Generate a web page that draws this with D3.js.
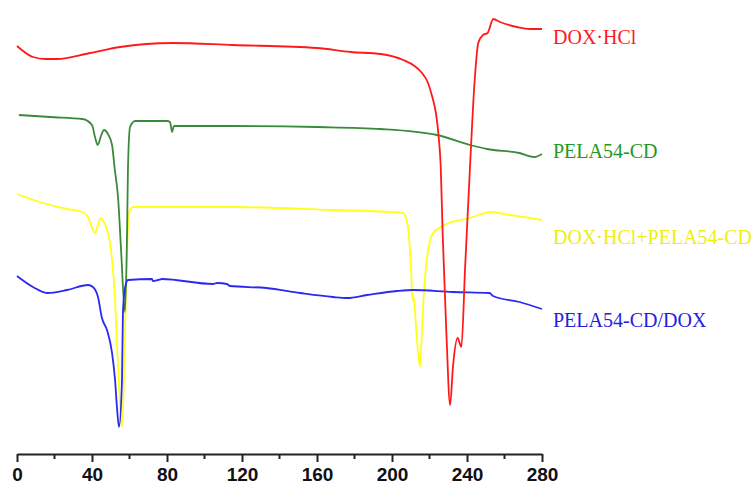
<!DOCTYPE html>
<html><head><meta charset="utf-8">
<script src="https://cdn.jsdelivr.net/npm/d3@7"></script>
<style>body{margin:0;background:#fff}svg{display:block}</style>
</head><body>
<script>
// Temperature ticks (°C)
const tickValues = [0, 40, 80, 120, 160, 200, 240, 280];
const minorTicks = [20, 60, 100, 140, 180, 220, 260];
const seriesNames = ["DOX·HCl", "PELA54-CD", "DOX·HCl+PELA54-CD", "PELA54-CD/DOX"];
const seriesColors = ["#ff1a1a", "#3a8a3a", "#ffff1a", "#2a2af0"];
const labelColors = ["#ff1a1a", "#229922", "#eeee10", "#2222dd"];
// heat flow (arbitrary units, stacked offsets) vs temperature
const doxHCl = [[0,408],[8.5,397],[15,395],[21.3,395],[39,401],[55,407],[83,411],[115,409],[160,406],[178,402],[194,400],[206,394],[212,388],[216,381],[219,372],[221.5,357],[223.5,340],[225,315],[226,287],[227,221],[229,121],[231,49],[232.5,87],[235,116],[237,107],[239,187],[241.6,287],[244,371],[246,411],[248.5,419],[251,421],[254,435],[257.6,432],[266.7,427],[273.6,425],[280,425]];
const pela = [[1,339],[17.6,337],[35,335],[40,329],[41.6,317],[43,309],[44.8,318],[46.4,324],[48.5,320],[50.7,309],[52,287],[54,254],[55.5,204],[57.6,142],[58.7,221],[59.2,287],[60.3,327],[63,333],[80,333],[81.6,332],[82.7,322],[83.5,327],[84,328],[115,328],[160,327],[194,325],[224,319],[241.6,309],[250.7,305],[268,301],[276,297],[280,300]];
const mixture = [[0,260],[13.9,251],[26.7,245],[35,242],[37.9,237],[39.5,229],[41.6,221],[43.2,229],[44.8,236],[46.4,232],[48,224],[50,206],[52.3,154],[53.9,87],[56,27],[57,74],[57.6,121],[58.7,204],[59.7,241],[61.9,247],[97.6,247],[115,247],[168.5,244],[199,242],[205.9,241],[208.5,227],[210.1,187],[211,154],[211.5,157],[212,149],[213.3,114],[214.9,87],[216,124],[216.8,154],[219,201],[222,221],[228,229],[241.6,236],[252.8,242],[263,239],[273.6,236],[280,234]];
const complex = [[0,178],[8.5,167],[16,161],[26.7,164],[37.9,169],[40.5,167],[43.2,157],[45.3,136],[48,124],[50.7,101],[52.3,74],[53.3,47],[54.4,27],[56,74],[56.5,141],[57.6,166],[59.2,174],[72,175],[72.5,173],[75.2,174],[77.3,175],[104.5,170],[106.7,171],[112,170],[113.6,168],[133,166],[151,161],[168.5,157],[176,156],[186.7,159],[202.7,163],[211.2,164],[232.5,162],[252,161],[253.9,158],[268,152],[280,145]];
const series = [doxHCl, pela, mixture, complex];
const labelValues = [410, 296, 210, 127];

const W = 754, H = 484;
const svg = d3.select("body").append("svg").attr("width", W).attr("height", H);
const x = d3.scaleLinear().domain([0, 280]).range([17, 542]);
const y = d3.scaleLinear().domain([0, 440]).range([454, 14]);

const line = d3.line().x(d => x(d[0])).y(d => y(d[1])).curve(d3.curveMonotoneX);
const order = [2, 1, 3, 0];
order.forEach(i => {
  svg.append("path").datum(series[i])
    .attr("d", line).attr("fill", "none")
    .attr("stroke", seriesColors[i]).attr("stroke-width", 1.8)
    .attr("stroke-linejoin", "round");
});

seriesNames.forEach((n, i) => {
  svg.append("text").attr("x", 553).attr("y", y(labelValues[i]))
    .attr("fill", labelColors[i])
    .attr("font-family", "'Liberation Serif','Times New Roman',serif")
    .attr("font-size", 20).text(n);
});

const axis = d3.axisBottom(x).tickValues(tickValues).tickSize(8).tickSizeOuter(0).tickPadding(6);
const g = svg.append("g").attr("transform", "translate(0,454)").call(axis);
g.select(".domain").attr("stroke", "#222").attr("stroke-width", 2);
g.selectAll(".tick line").attr("stroke", "#222").attr("stroke-width", 2);
g.selectAll(".tick text").attr("fill", "#111")
  .attr("font-family", "'Liberation Sans',Arial,sans-serif")
  .attr("font-weight", "bold").attr("font-size", 19);
g.selectAll(".minor").data(minorTicks).enter().append("line")
  .attr("class", "minor").attr("x1", d => x(d)).attr("x2", d => x(d))
  .attr("y1", 0).attr("y2", 5).attr("stroke", "#222").attr("stroke-width", 2);
</script>
</body></html>
